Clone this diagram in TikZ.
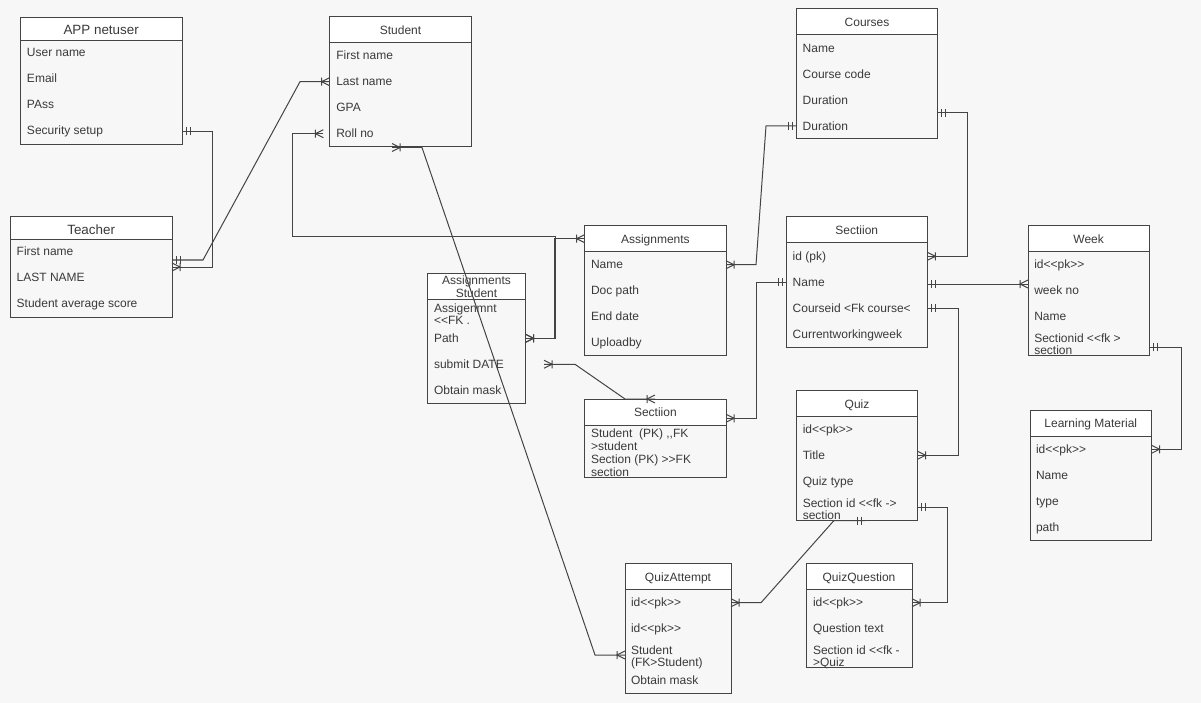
\documentclass[tikz,border=0pt]{standalone}
\usepackage{fontspec}
\newfontfamily\erfont{Liberation Sans}
\usetikzlibrary{arrows.meta,calc}
\definecolor{bgc}{HTML}{F7F7F7}
\definecolor{inkc}{HTML}{444444}
\definecolor{txtc}{HTML}{3A3A3A}
\pgfdeclarearrow{
  name=ERcrow,
  parameters={\the\pgflinewidth},
  setup code={\pgfarrowssettipend{0pt}\pgfarrowssetlineend{0pt}\pgfarrowssetbackend{-9pt}\pgfarrowssetvisualbackend{-8pt}},
  drawing code={
    \pgfpathmoveto{\pgfqpoint{0pt}{4pt}}\pgfpathlineto{\pgfqpoint{-8pt}{0pt}}\pgfpathlineto{\pgfqpoint{0pt}{-4pt}}
    \pgfpathmoveto{\pgfqpoint{-8pt}{4pt}}\pgfpathlineto{\pgfqpoint{-8pt}{-4pt}}
    \pgfusepathqstroke},
  defaults={}
}
\pgfdeclarearrow{
  name=ERbars,
  parameters={\the\pgflinewidth},
  setup code={\pgfarrowssettipend{0pt}\pgfarrowssetlineend{0pt}\pgfarrowssetbackend{-9pt}\pgfarrowssetvisualbackend{-8pt}},
  drawing code={
    \pgfpathmoveto{\pgfqpoint{-4pt}{4pt}}\pgfpathlineto{\pgfqpoint{-4pt}{-4pt}}
    \pgfpathmoveto{\pgfqpoint{-8pt}{4pt}}\pgfpathlineto{\pgfqpoint{-8pt}{-4pt}}
    \pgfusepathqstroke},
  defaults={}
}
\tikzset{
  erbody/.style={draw=inkc,line width=1pt,inner sep=0pt,outer sep=0pt,rectangle},
  erheadtwo/.style={erbody,fill=white,text=txtc,font=\erfont\fontsize{12}{13}\selectfont,align=center},
  erhead/.style={erbody,fill=white,text=txtc,font=\erfont\fontsize{12}{13}\selectfont,text height=12pt,text depth=3pt},
  erheadbig/.style={erbody,fill=white,text=txtc,font=\erfont\fontsize{13.4}{14}\selectfont,text height=14.6pt,text depth=3pt},
  errow/.style={anchor=west,inner sep=0pt,outer sep=0pt,text=txtc,font=\erfont\fontsize{12}{12.3}\selectfont,text height=11pt,text depth=2.5pt},
  ermulti/.style={anchor=west,inner sep=0pt,outer sep=0pt,text=txtc,font=\erfont\fontsize{12}{12.3}\selectfont,align=left},
  erline/.style={draw=inkc,line width=1pt}
}
% \erbox[head style]{name}{x0}{y0}{x1}{y1}{header bottom}{title}
\newcommand{\erbox}[8][erhead]{%
  \pgfmathsetmacro\ebw{#5-#3}%
  \pgfmathsetmacro\ebh{#6-#4}%
  \pgfmathsetmacro\ebx{(#5+#3)/2}%
  \pgfmathsetmacro\eby{(#6+#4)/2}%
  \pgfmathsetmacro\ehh{#7-#4}%
  \pgfmathsetmacro\ehy{(#7+#4)/2}%
  \node[erbody,minimum width=\ebw pt,minimum height=\ebh pt] (#2) at (\ebx,\eby) {};
  \node[#1,minimum width=\ebw pt,minimum height=\ehh pt] (#2-h) at (\ebx,\ehy) {#8};
}
\begin{document}
\begin{tikzpicture}[x=1pt,y=-1pt]
\useasboundingbox (0,0) rectangle (1201,703);
\fill[bgc] (0,0) rectangle (1201,703);

% boxes
\erbox[erheadbig]{app}{20.3}{17.7}{182}{144.3}{40.3}{APP netuser}
\node[errow] (app-1) at (27,52) {User name};
\node[errow] (app-2) at (27,78) {Email};
\node[errow] (app-3) at (27,104) {PAss};
\node[errow] (app-4) at (27,130.5) {Security setup};

\erbox{student}{329.7}{16.7}{471.3}{146.7}{42.7}{Student}
\node[errow] (stu-1) at (336.3,55.7) {First name};
\node[errow] (stu-2) at (336.3,81.7) {Last name};
\node[errow] (stu-3) at (336.3,107.7) {GPA};
\node[errow] (stu-4) at (336.3,133.7) {Roll no};

\erbox[erheadbig]{teacher}{10.3}{217}{172}{317.3}{239.7}{Teacher}
\node[errow] (tea-1) at (16.7,251.7) {First name};
\node[errow] (tea-2) at (16.7,277.7) {LAST NAME};
\node[errow] (tea-3) at (16.7,303.7) {Student average score};

\erbox[erheadtwo]{as}{427.3}{273.3}{525.7}{403.3}{299.3}{Assignments\\Student}
\node[ermulti] (as-1) at (434,314.5) {Assigenmnt\\<<FK .};
\node[errow] (as-2) at (434,338.3) {Path};
\node[errow] (as-3) at (434,364.3) {submit DATE};
\node[errow] (as-4) at (434,390.3) {Obtain mask};

\erbox{asg}{584.7}{225.7}{726}{355.7}{251.7}{Assignments}
\node[errow] (asg-1) at (591,264.7) {Name};
\node[errow] (asg-2) at (591,290.7) {Doc path};
\node[errow] (asg-3) at (591,316.7) {End date};
\node[errow] (asg-4) at (591,342.7) {Uploadby};

\erbox{low}{584.7}{399}{726}{477.3}{425}{Sectiion}
\node[ermulti] (low-1) at (591,439.6) {Student\ \ (PK) ,,FK\\>student};
\node[ermulti] (low-2) at (591,465.8) {Section (PK) >>FK\\section};

\erbox{cou}{796.3}{9}{937.7}{139}{35}{Courses}
\node[errow] (cou-1) at (802.7,48) {Name};
\node[errow] (cou-2) at (802.7,74) {Course code};
\node[errow] (cou-3) at (802.7,100) {Duration};
\node[errow] (cou-4) at (802.7,126) {Duration};

\erbox{sec}{786.3}{217}{927.3}{347}{243}{Sectiion}
\node[errow] (sec-1) at (792.7,256) {id (pk)};
\node[errow] (sec-2) at (792.7,282) {Name};
\node[errow] (sec-3) at (792.7,308) {Courseid <Fk course<};
\node[errow] (sec-4) at (792.7,334) {Currentworkingweek};

\erbox{week}{1028}{225.7}{1149.3}{355.7}{251.5}{Week}
\node[errow] (wee-1) at (1034.3,264.3) {id<<pk>>};
\node[errow] (wee-2) at (1034.3,290.3) {week no};
\node[errow] (wee-3) at (1034.3,316.3) {Name};
\node[ermulti] (wee-4) at (1034.3,344.2) {Sectionid <<fk >\\section};

\erbox{quiz}{796.5}{390.5}{917.5}{520.5}{416.5}{Quiz}
\node[errow] (qui-1) at (802.8,429.3) {id<<pk>>};
\node[errow] (qui-2) at (802.8,455.3) {Title};
\node[errow] (qui-3) at (802.8,481.3) {Quiz type};
\node[ermulti] (qui-4) at (802.8,509) {Section id <<fk ->\\section};

\erbox{lm}{1030}{410.3}{1151.5}{540.3}{436}{Learning Material}
\node[errow] (lm-1) at (1036,449.3) {id<<pk>>};
\node[errow] (lm-2) at (1036,475.3) {Name};
\node[errow] (lm-3) at (1036,501.3) {type};
\node[errow] (lm-4) at (1036,527.3) {path};

\erbox{qa}{625}{563.7}{731}{693.7}{589.7}{QuizAttempt}
\node[errow] (qa-1) at (631,602.7) {id<<pk>>};
\node[errow] (qa-2) at (631,628.7) {id<<pk>>};
\node[ermulti] (qa-3) at (631,657.3) {Student\\(FK>Student)};
\node[errow] (qa-4) at (631,680.7) {Obtain mask};

\erbox{qq}{806}{563.7}{912}{667.7}{589.7}{QuizQuestion}
\node[errow] (qq-1) at (813,602.7) {id<<pk>>};
\node[errow] (qq-2) at (813,628.7) {Question text};
\node[ermulti] (qq-3) at (813,657.3) {Section id <<fk -\\>Quiz};

% free ends and attachment heights
\coordinate (a1) at (212,131.3);
\coordinate (a2) at (212,267);
\coordinate (b1) at (203,260);
\coordinate (b2) at (300,81.7);
\coordinate (c0) at (323.3,133.7);
\coordinate (c1) at (292.7,133.7);
\coordinate (c2) at (292.7,236.3);
\coordinate (c3) at (555.3,236.3);
\coordinate (c4) at (555.3,338.3);
\coordinate (d1) at (554,238.7);
\coordinate (d2) at (554,338.3);
\coordinate (e0) at (392,147.5);
\coordinate (e1) at (422,147.5);
\coordinate (e2) at (595,655);
\coordinate (f0) at (544,364.3);
\coordinate (f1) at (575,364.3);
\coordinate (f2) at (625,399);
\coordinate (f3) at (655,399);
\coordinate (g1) at (756,264.7);
\coordinate (g2) at (766,126);
\coordinate (h1) at (967.7,113);
\coordinate (h2) at (967.7,256.3);
\coordinate (i1) at (756,282);
\coordinate (i2) at (756,418.3);
\coordinate (j1) at (958,308);
\coordinate (j2) at (958,455.3);
\coordinate (k1) at (1181.7,347.3);
\coordinate (k2) at (1181.7,449.3);
\coordinate (l1) at (947.5,507);
\coordinate (l2) at (947.5,602.7);
\coordinate (m1) at (761,602.7);
\coordinate (m2) at (834,520.5);
\coordinate (m3) at (865,520.5);

% connectors
\draw[erline,{ERbars}-{ERcrow}] (app.east |- a1) -- (a1) -- (a2) -- (teacher.east |- a2);
\draw[erline,{ERbars}-{ERcrow}] (teacher.east |- b1) -- (b1) -- (b2) -- (student.west |- b2);
\draw[erline,{ERcrow}-{ERcrow}] (c0) -- (c1) -- (c2) -- (c3) -- (c4) -- (as.east |- c4);
\draw[erline,{ERcrow}-{ERcrow}] (asg.west |- d1) -- (d1) -- (d2) -- (as.east |- d2);
\draw[erline,{ERcrow}-{ERcrow}] (e0) -- (e1) -- (e2) -- (qa.west |- e2);
\draw[erline,{ERcrow}-{ERcrow}] (f0) -- (f1) -- (f2) -- (f3);
\draw[erline,{ERcrow}-{ERbars}] (asg.east |- g1) -- (g1) -- (g2) -- (cou.west |- g2);
\draw[erline,{ERbars}-{ERcrow}] (cou.east |- h1) -- (h1) -- (h2) -- (sec.east |- h2);
\draw[erline,{ERbars}-{ERcrow}] (sec.west |- i1) -- (i1) -- (i2) -- (low.east |- i2);
\draw[erline,{ERbars}-{ERcrow}] (sec.east |- 0,284) -- (week.west |- 0,284);
\draw[erline,{ERbars}-{ERcrow}] (sec.east |- j1) -- (j1) -- (j2) -- (quiz.east |- j2);
\draw[erline,{ERbars}-{ERcrow}] (week.east |- k1) -- (k1) -- (k2) -- (lm.east |- k2);
\draw[erline,{ERbars}-{ERcrow}] (quiz.east |- l1) -- (l1) -- (l2) -- (qq.east |- l2);
\draw[erline,{ERcrow}-{ERbars}] (qa.east |- m1) -- (m1) -- (m2) -- (m3);
\end{tikzpicture}
\end{document}
